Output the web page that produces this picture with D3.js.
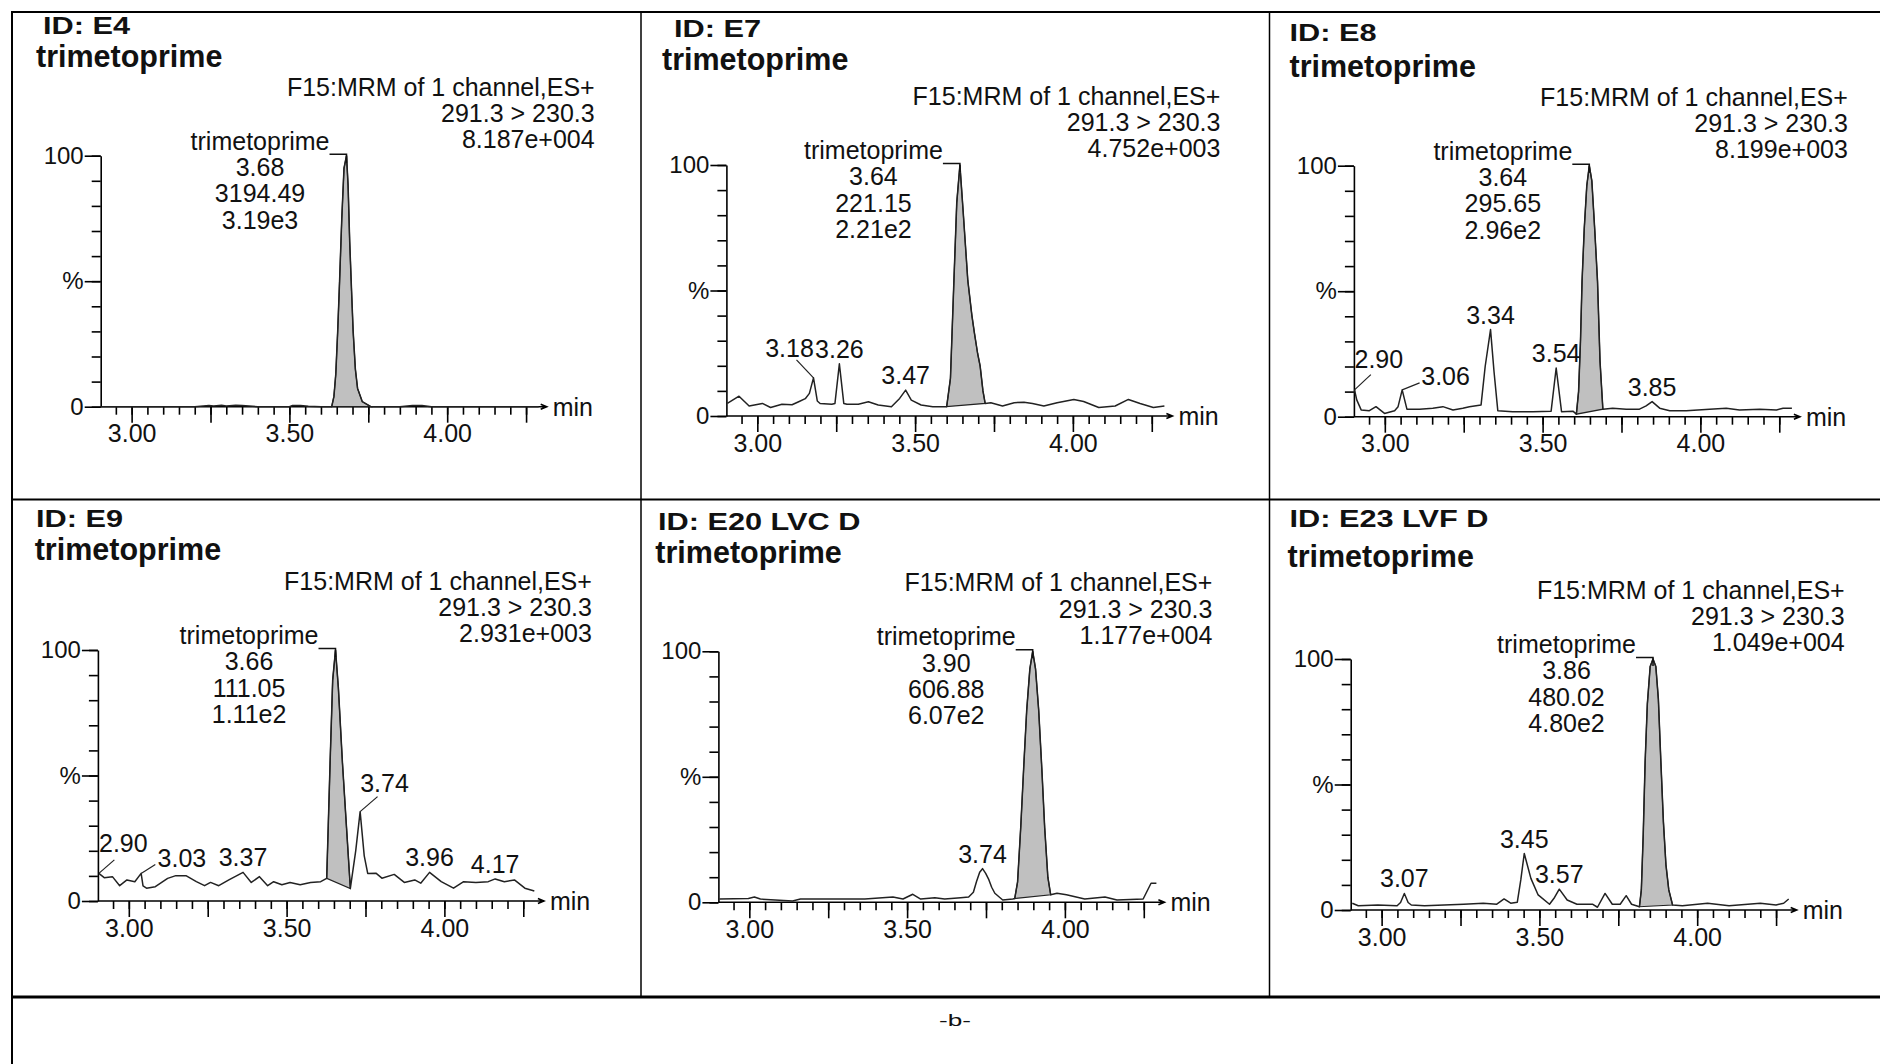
<!DOCTYPE html>
<html>
<head>
<meta charset="utf-8">
<script src="https://cdn.jsdelivr.net/npm/d3@7"></script>
<style>
  body { margin: 0; background: #fff; }
  svg text { font-family: "Liberation Sans", Arial, Helvetica, sans-serif; fill: #111; }
</style>
</head>
<body>
<svg id="chart" width="1880" height="1064"></svg>
<script>
// ---- data ----
const sampleIds = ['E4', 'E7', 'E8', 'E9', 'E20 LVC D', 'E23 LVF D'];
const compound = 'trimetoprime';
const channelLines = ['F15:MRM of 1 channel,ES+', '291.3 > 230.3'];
const intensities = ['8.187e+004', '4.752e+003', '8.199e+003', '2.931e+003', '1.177e+004', '1.049e+004'];
const mainPeakRt = [3.68, 3.64, 3.64, 3.66, 3.90, 3.86];
const mainPeakArea = ['3194.49', '221.15', '295.65', '111.05', '606.88', '480.02'];
const mainPeakHeight = ['3.19e3', '2.21e2', '2.96e2', '1.11e2', '6.07e2', '4.80e2'];
// integration window of the shaded peak (min)
const peakWindows = [[3.634, 3.758], [3.600, 3.722], [3.607, 3.691], [3.627, 3.702], [3.841, 3.955], [3.817, 3.922]];
// other labelled peaks
const minorPeaks = [
  [],
  [3.18, 3.26, 3.47],
  [2.90, 3.06, 3.34, 3.54, 3.85],
  [2.90, 3.03, 3.37, 3.74, 3.96, 4.17],
  [3.74],
  [3.07, 3.45, 3.57]
];

// traces: [time (min), relative intensity (%)]
const traceE4 = [[2.904,0],[3.000,0],[3.100,0],[3.200,0],[3.245,0.5],[3.260,0.3],[3.285,0.6],[3.300,0.3],[3.330,0.6],[3.350,0.5],[3.400,0],
  [3.500,0],[3.510,0.5],[3.535,0.5],[3.560,0.2],[3.600,0],[3.634,0],[3.641,4],[3.647,13],[3.653,30],[3.659,50],[3.666,75],[3.673,95],
  [3.681,100],[3.686,88],[3.691,66],[3.697,46],[3.702,30],[3.709,15],[3.716,7.3],[3.731,2],[3.758,0],[3.850,0],[3.890,0.5],[3.920,0.5],
  [3.950,0],[4.100,0],[4.290,0]];
const traceE7 = [[2.905,5.0],[2.942,7.9],[2.974,4.0],[3.016,5.0],[3.042,3.4],[3.078,4.7],[3.110,4.5],[3.131,5.7],[3.152,6.9],[3.165,9],
  [3.178,15.2],[3.190,6],[3.199,5.0],[3.236,4.7],[3.246,5],[3.260,20.8],[3.274,5],[3.284,4.7],[3.320,4.7],[3.352,5.7],[3.383,4.4],
  [3.425,3.7],[3.451,7],[3.470,10.3],[3.488,6.3],[3.519,4.4],[3.556,3.7],[3.600,3.7],[3.612,15],[3.623,54],[3.632,85],[3.642,100],
  [3.652,82],[3.667,54],[3.680,40],[3.688,33],[3.698,25],[3.706,20],[3.715,10],[3.722,5],[3.740,5.3],[3.777,4.0],[3.814,5.3],
  [3.845,5.5],[3.872,5.0],[3.908,4.0],[3.950,5.3],[4.003,6.6],[4.034,5.8],[4.082,3.4],[4.134,4.0],[4.176,6.6],[4.213,5.0],
  [4.255,3.4],[4.290,4.0]];
const traceE8 = [[2.904,10.7],[2.911,6.7],[2.925,2.7],[2.951,2.4],[2.972,4.0],[2.999,1.3],[3.031,2.4],[3.042,4],[3.055,10.7],[3.070,3.0],
  [3.110,3.0],[3.152,3.4],[3.184,4.0],[3.216,2.7],[3.247,3.4],[3.268,4.0],[3.305,4.7],[3.318,20],[3.335,34.7],[3.346,18],[3.358,2.4],
  [3.405,2.0],[3.469,2.0],[3.527,2.2],[3.543,19.4],[3.560,2.0],[3.596,2.2],[3.607,1],[3.614,10],[3.620,30],[3.625,54],[3.632,75],
  [3.640,92],[3.648,100],[3.656,94],[3.665,75],[3.674,54],[3.682,22],[3.691,3],[3.722,3.4],[3.765,3.0],[3.807,3.0],[3.828,4.3],
  [3.847,6.0],[3.871,3.4],[3.903,2.4],[3.955,2.4],[4.029,3.0],[4.082,3.4],[4.124,2.7],[4.188,3.0],[4.241,2.7],[4.262,3.4],[4.290,3.4]];
const traceE9 = [[2.905,11.0],[2.922,9.3],[2.948,9.7],[2.971,6.1],[2.994,8.4],[3.019,7.7],[3.039,11.0],[3.045,6],[3.056,5.1],[3.084,5.7],
  [3.123,9.0],[3.149,10.1],[3.181,10.1],[3.214,7.7],[3.240,6.1],[3.259,7.4],[3.285,6.1],[3.317,8.4],[3.362,11.4],[3.388,7.4],
  [3.414,9.7],[3.440,6.1],[3.459,7.7],[3.485,6.5],[3.511,7.4],[3.543,6.5],[3.576,7.4],[3.608,7.7],[3.627,9],[3.632,30],[3.638,56],
  [3.646,88],[3.655,100],[3.664,85],[3.677,55],[3.690,29],[3.702,5],[3.719,20],[3.733,35.6],[3.746,18],[3.757,11],[3.783,11.1],
  [3.802,9.1],[3.841,10.6],[3.873,7.4],[3.906,8.4],[3.925,7.1],[3.953,11.4],[3.990,7.7],[4.029,5.1],[4.061,7.7],[4.100,7.4],
  [4.139,7.7],[4.161,8.8],[4.190,7.7],[4.222,8.4],[4.255,5.1],[4.285,4.0]];
const traceE20 = [[2.905,1.3],[2.997,1.5],[3.016,2.1],[3.035,1.3],[3.137,0.5],[3.162,1.3],[3.289,1.3],[3.366,1.3],[3.455,2.1],[3.487,1.3],
  [3.518,3.2],[3.543,1.3],[3.588,1.8],[3.619,1.3],[3.670,1.8],[3.695,2.1],[3.710,4],[3.720,8.3],[3.730,12],[3.739,13.4],[3.749,11.5],
  [3.759,9.0],[3.768,6],[3.778,3.6],[3.803,0.9],[3.835,1.3],[3.841,1.5],[3.850,8],[3.860,29.7],[3.870,55],[3.879,76.5],[3.889,93],
  [3.898,100],[3.907,93],[3.917,76.5],[3.927,53],[3.936,29.7],[3.946,10],[3.955,3],[3.975,3.6],[4.005,3.0],[4.063,1.3],[4.127,2.1],
  [4.165,0.9],[4.248,1.3],[4.273,7.6],[4.290,7.6]];
const traceE23 = [[2.907,2.7],[2.926,1.7],[2.988,2.0],[3.049,1.7],[3.060,3],[3.072,6.6],[3.084,3],[3.094,2.0],[3.136,1.7],[3.198,2.0],
  [3.260,2.3],[3.322,2.7],[3.365,2.3],[3.388,4.4],[3.409,2.7],[3.430,3.1],[3.441,12],[3.452,22.5],[3.473,12.6],[3.496,6.0],[3.532,2.3],
  [3.548,5],[3.563,8.3],[3.588,4.0],[3.619,2.3],[3.668,2.3],[3.684,1.1],[3.708,6.6],[3.731,2.3],[3.756,2.3],[3.775,5.7],[3.792,2.3],
  [3.817,1.3],[3.823,8],[3.829,30],[3.835,58.9],[3.842,82],[3.851,97],[3.860,100],[3.869,97],[3.877,84],[3.885,58.9],[3.893,35],
  [3.901,18],[3.910,8],[3.922,2],[3.953,1.7],[4.033,2.7],[4.101,1.7],[4.200,2.7],[4.250,2.0],[4.274,2.7],[4.290,4.4]];
const traces = [traceE4, traceE7, traceE8, traceE9, traceE20, traceE23];

// axis ticks
const xLabelTicks = [3.00, 3.50, 4.00];
const xMidTicks = [3.25, 3.75, 4.25];
const xMinorTicks = d3.range(2.95, 4.26, 0.05);
const yTicks = [0, 10, 20, 30, 40, 50, 60, 70, 80, 90, 100];
const yLabels = { 0: '0', 50: '%', 100: '100' };

// ---- layout (pixels) ----
const panelFrames = [
  { x0: 100.7, y0: 406.7, idX: 43, idY: 34, nameX: 36, nameY: 67 },
  { x0: 726.4, y0: 416, idX: 674, idY: 36.7, nameX: 662, nameY: 70 },
  { x0: 1353.9, y0: 416.7, idX: 1289.5, idY: 40.7, nameX: 1289.5, nameY: 76.7 },
  { x0: 97.9, y0: 901, idX: 36, idY: 526.7, nameX: 34.7, nameY: 559.5 },
  { x0: 718.4, y0: 902.3, idX: 658, idY: 530, nameX: 655.3, nameY: 563.3 },
  { x0: 1350.7, y0: 910, idX: 1289.5, idY: 526.7, nameX: 1287.5, nameY: 566.7 }
];
// labels that sit beside their peak with a leader line
const leaderLabels = {
  '1:3.18': { dx: -24, dy: -21, lx: 7, ly: 3 },
  '2:2.90': { dx: 24.3, dy: -21.7, lx: -8, ly: 6.5 },
  '2:3.06': { dx: 43.4, dy: -5, lx: -26, ly: -2 },
  '3:2.90': { dx: 24.5, dy: -21, lx: -9, ly: 7.5 },
  '3:3.03': { dx: 40.8, dy: -6.6, lx: -26.6, ly: -2.4 },
  '3:3.74': { dx: 24.4, dy: -20, lx: -7, ly: 5 }
};
const plotW = 438, plotH = 251;
const fs = 25;
const fmt2 = d3.format('.2f');

const svg = d3.select('#chart');

// table grid
const grid = svg.append('g').attr('stroke', '#000').attr('fill', 'none');
grid.append('line').attr('x1', 12).attr('x2', 12).attr('y1', 11).attr('y2', 1064).attr('stroke-width', 2);
grid.append('line').attr('x1', 11).attr('x2', 1880).attr('y1', 12).attr('y2', 12).attr('stroke-width', 2);
grid.append('line').attr('x1', 641).attr('x2', 641).attr('y1', 12).attr('y2', 997).attr('stroke-width', 1.5);
grid.append('line').attr('x1', 1269.5).attr('x2', 1269.5).attr('y1', 12).attr('y2', 997).attr('stroke-width', 1.5);
grid.append('line').attr('x1', 11).attr('x2', 1880).attr('y1', 499.5).attr('y2', 499.5).attr('stroke-width', 2);
grid.append('line').attr('x1', 11).attr('x2', 1880).attr('y1', 997).attr('y2', 997).attr('stroke-width', 3);
svg.append('text').attr('x', 955).attr('y', 1026).attr('text-anchor', 'middle')
  .attr('font-size', 17).attr('textLength', 32).attr('lengthAdjust', 'spacingAndGlyphs').text('-b-');

panelFrames.forEach((f, i) => {
  const g = svg.append('g');
  const x = d3.scaleLinear().domain([2.902, 4.29]).range([f.x0, f.x0 + plotW]);
  const y = d3.scaleLinear().domain([0, 100]).range([f.y0, f.y0 - plotH]);
  const yTop = y(100);

  // titles
  g.append('text').attr('transform', `translate(${f.idX},${f.idY}) scale(1.28,1)`)
    .attr('font-size', 24).attr('font-weight', 'bold').text('ID: ' + sampleIds[i]);
  g.append('text').attr('x', f.nameX).attr('y', f.nameY)
    .attr('font-size', 30.5).attr('font-weight', 'bold').text(compound);

  // channel annotation
  [channelLines[0], channelLines[1], intensities[i]].forEach((s, j) => {
    g.append('text').attr('x', f.x0 + 494).attr('y', yTop - 60 + j * 26.2)
      .attr('text-anchor', 'end').attr('font-size', fs).text(s);
  });

  // x axis
  const styleAxis = sel => {
    sel.select('.domain').remove();
    sel.selectAll('line').attr('stroke', '#000').attr('stroke-width', 1.6);
    sel.attr('font-size', fs);
  };
  g.append('g').attr('transform', `translate(0,${f.y0})`)
    .call(d3.axisBottom(x).tickValues(xMinorTicks).tickSize(8).tickFormat(''))
    .call(styleAxis);
  g.append('g').attr('transform', `translate(0,${f.y0})`)
    .call(d3.axisBottom(x).tickValues(xMidTicks).tickSize(16).tickFormat(''))
    .call(styleAxis);
  g.append('g').attr('transform', `translate(0,${f.y0})`)
    .call(d3.axisBottom(x).tickValues(xLabelTicks).tickSize(16).tickPadding(2).tickFormat(fmt2))
    .call(styleAxis);
  g.append('path')
    .attr('d', `M${f.x0},${f.y0}H${f.x0 + plotW + 8}M${f.x0 + plotW + 2},${f.y0 - 2.5}L${f.x0 + plotW + 8},${f.y0}L${f.x0 + plotW + 2},${f.y0 + 2.5}`)
    .attr('stroke', '#000').attr('stroke-width', 1.6).attr('fill', 'none');
  g.append('text').attr('x', f.x0 + plotW + 14).attr('y', f.y0 + 9).attr('font-size', fs).text('min');

  // y axis
  g.append('g').attr('transform', `translate(${f.x0},0)`)
    .call(d3.axisLeft(y).tickValues(yTicks).tickSize(9).tickSizeOuter(0).tickFormat(''))
    .call(sel => {
      sel.select('.domain').attr('stroke', '#000').attr('stroke-width', 1.6);
      sel.selectAll('line').attr('stroke', '#000').attr('stroke-width', 1.6);
    });
  g.append('g').attr('transform', `translate(${f.x0},0)`)
    .call(d3.axisLeft(y).tickValues([0, 50, 100]).tickSize(16).tickPadding(1).tickFormat(d => yLabels[d]))
    .call(styleAxis)
    .attr('font-size', 24);

  // trace + shaded peak
  const line = d3.line().x(d => x(d[0])).y(d => y(d[1]));
  const [w0, w1] = peakWindows[i];
  const peakPts = traces[i].filter(d => d[0] >= w0 - 1e-9 && d[0] <= w1 + 1e-9);
  g.append('path').attr('d', line(peakPts) + 'Z').attr('fill', '#c0c0c0').attr('stroke', '#222').attr('stroke-width', 1.2);
  g.append('path').attr('d', line(traces[i])).attr('fill', 'none').attr('stroke', '#222')
    .attr('stroke-width', 1.5).attr('stroke-linejoin', 'round');

  // main peak label with bracket
  const apex = peakPts.reduce((a, b) => (b[1] > a[1] ? b : a));
  const ax = x(apex[0]);
  const endX = ax - 17;
  const lbl = g.append('text').attr('x', endX).attr('y', yTop - 6)
    .attr('text-anchor', 'end').attr('font-size', fs).text(compound);
  const cx = endX - lbl.node().getComputedTextLength() / 2;
  [fmt2(mainPeakRt[i]), mainPeakArea[i], mainPeakHeight[i]].forEach((s, j) => {
    g.append('text').attr('x', cx).attr('y', yTop - 6 + (j + 1) * 26.3)
      .attr('text-anchor', 'middle').attr('font-size', fs).text(s);
  });
  g.append('path').attr('d', `M${endX},${yTop - 1.5}H${ax}V${yTop + 7}`)
    .attr('fill', 'none').attr('stroke', '#111').attr('stroke-width', 1.5);

  // minor peak labels
  minorPeaks[i].forEach(rt => {
    const near = traces[i].filter(d => Math.abs(d[0] - rt) <= 0.02);
    const top = near.reduce((a, b) => (b[1] > a[1] ? b : a));
    const px = x(top[0]), py = y(top[1]);
    const lead = leaderLabels[i + ':' + fmt2(rt)];
    const tx = px + (lead ? lead.dx : 0);
    const ty = py + (lead ? lead.dy : -6);
    g.append('text').attr('x', tx).attr('y', ty).attr('text-anchor', 'middle')
      .attr('font-size', fs).text(fmt2(rt));
    if (lead) {
      g.append('line').attr('x1', tx + lead.lx).attr('y1', ty + lead.ly).attr('x2', px).attr('y2', py)
        .attr('stroke', '#222').attr('stroke-width', 1.2);
    }
  });
});
</script>
</body>
</html>
